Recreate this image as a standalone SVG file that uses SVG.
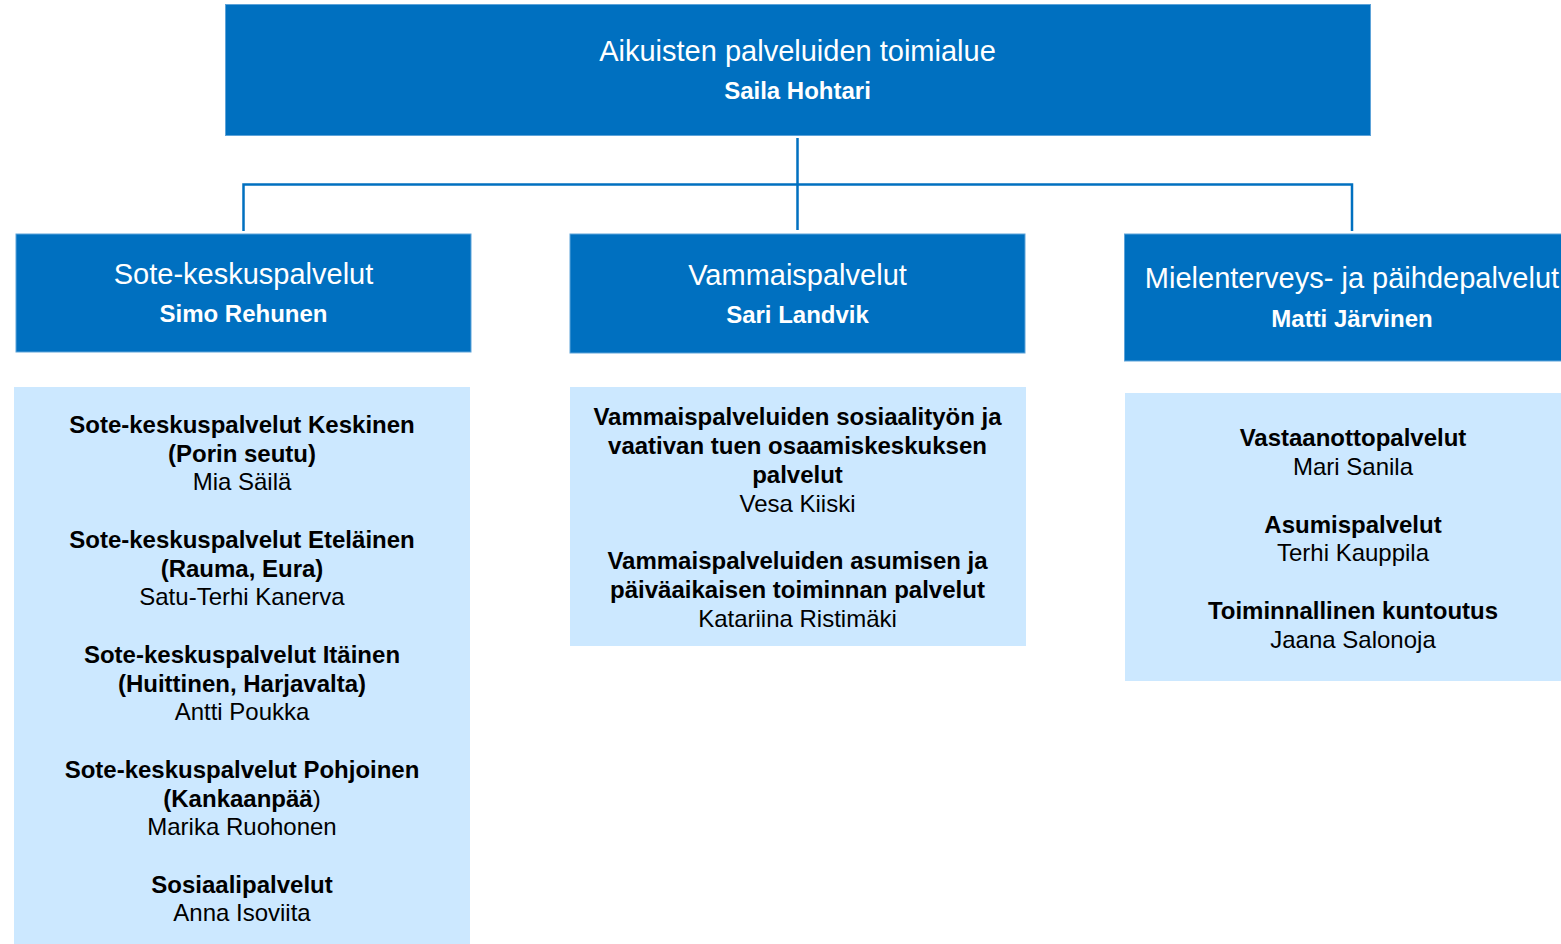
<svg xmlns="http://www.w3.org/2000/svg" width="1561" height="944" viewBox="0 0 1561 944">
<style>
.hdr{fill:#0070C0;stroke:#5DA3D9;stroke-width:1}
.sub{fill:#CCE8FF}
.t{font-family:"Liberation Sans",Arial,sans-serif;text-anchor:middle}
.h{fill:#fff;font-size:29px}
.hb{fill:#fff;font-size:24px;font-weight:bold}
.b{fill:#000;font-size:24px;font-weight:bold}
.r{fill:#000;font-size:24px}
.con{fill:none;stroke:#0070C0;stroke-width:2.5}
</style>
<rect width="1561" height="944" fill="#fff"/>
<g id="connectors">
<path class="con" d="M797.5 138V230M243.5 231V184.5H1352V231"/>
</g>
<g id="top">
<rect class="hdr" x="225.5" y="4.5" width="1145" height="131"/>
<text class="t h" x="797.5" y="61">Aikuisten palveluiden toimialue</text>
<text class="t hb" x="797.5" y="99">Saila Hohtari</text>
</g>
<g id="sote">
<rect class="hdr" x="16" y="234" width="455" height="118"/>
<text class="t h" x="243.5" y="284">Sote-keskuspalvelut</text>
<text class="t hb" x="243.5" y="322">Simo Rehunen</text>
</g>
<g id="vammais">
<rect class="hdr" x="570" y="234" width="455" height="119"/>
<text class="t h" x="797.5" y="285">Vammaispalvelut</text>
<text class="t hb" x="797.5" y="323">Sari Landvik</text>
</g>
<g id="mielenterveys">
<rect class="hdr" x="1124.5" y="234" width="440" height="127"/>
<text class="t h" x="1352" y="288">Mielenterveys- ja päihdepalvelut</text>
<text class="t hb" x="1352" y="327">Matti Järvinen</text>
</g>
<g id="sote-units">
<rect class="sub" x="14" y="387" width="456" height="557"/>
<text class="t b" x="242" y="433">Sote-keskuspalvelut Keskinen</text>
<text class="t b" x="242" y="462">(Porin seutu)</text>
<text class="t r" x="242" y="490">Mia Säilä</text>
<text class="t b" x="242" y="548">Sote-keskuspalvelut Eteläinen</text>
<text class="t b" x="242" y="577">(Rauma, Eura)</text>
<text class="t r" x="242" y="605">Satu-Terhi Kanerva</text>
<text class="t b" x="242" y="663">Sote-keskuspalvelut Itäinen</text>
<text class="t b" x="242" y="692">(Huittinen, Harjavalta)</text>
<text class="t r" x="242" y="720">Antti Poukka</text>
<text class="t b" x="242" y="778">Sote-keskuspalvelut Pohjoinen</text>
<text class="t b" x="242" y="807">(Kankaanpää<tspan font-weight="normal">)</tspan></text>
<text class="t r" x="242" y="835">Marika Ruohonen</text>
<text class="t b" x="242" y="893">Sosiaalipalvelut</text>
<text class="t r" x="242" y="921">Anna Isoviita</text>
</g>
<g id="vammais-units">
<rect class="sub" x="570" y="387" width="456" height="259"/>
<text class="t b" x="797.5" y="425">Vammaispalveluiden sosiaalityön ja</text>
<text class="t b" x="797.5" y="454">vaativan tuen osaamiskeskuksen</text>
<text class="t b" x="797.5" y="483">palvelut</text>
<text class="t r" x="797.5" y="512">Vesa Kiiski</text>
<text class="t b" x="797.5" y="569">Vammaispalveluiden asumisen ja</text>
<text class="t b" x="797.5" y="598">päiväaikaisen toiminnan palvelut</text>
<text class="t r" x="797.5" y="627">Katariina Ristimäki</text>
</g>
<g id="mielenterveys-units">
<rect class="sub" x="1125" y="393" width="436" height="288"/>
<text class="t b" x="1353" y="446">Vastaanottopalvelut</text>
<text class="t r" x="1353" y="475">Mari Sanila</text>
<text class="t b" x="1353" y="533">Asumispalvelut</text>
<text class="t r" x="1353" y="561">Terhi Kauppila</text>
<text class="t b" x="1353" y="619">Toiminnallinen kuntoutus</text>
<text class="t r" x="1353" y="648">Jaana Salonoja</text>
</g>
</svg>
